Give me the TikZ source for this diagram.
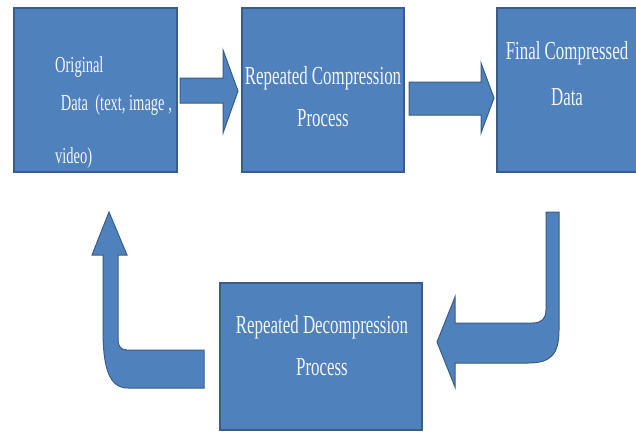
\documentclass[tikz,border=0pt]{standalone}
\usepackage{fontspec}
\newfontfamily\cond[FakeStretch=0.65]{Liberation Serif}
\newfontfamily\condb[FakeStretch=0.63]{Liberation Serif}
\definecolor{boxfill}{HTML}{4F81BD}
\definecolor{boxline}{HTML}{385D8A}
\definecolor{txt}{HTML}{F2F5FB}
\tikzset{
  blockbox/.style={draw=boxline, fill=boxfill, line width=1.6pt, inner sep=0pt},
  blockarrow/.style={draw=boxline, fill=boxfill, line width=1pt, line join=miter},
  boxtext/.style={text=txt, inner sep=0pt, font=\cond\fontsize{26}{42}\selectfont, align=center},
  lefttext/.style={text=txt, inner sep=0pt, font=\condb\fontsize{23}{23}\selectfont, anchor=base west}
}
\begin{document}
\begin{tikzpicture}[x=1pt,y=-1pt]
\useasboundingbox (0,0) rectangle (636,432);
\clip (0,0) rectangle (636,432);
\fill[white] (0,0) rectangle (636,432);
% boxes
\node[blockbox, minimum width=163pt, minimum height=164pt] (b1) at (95.5,90) {};
\node[blockbox, minimum width=162pt, minimum height=164pt] (b2) at (323,90) {};
\node[blockbox, minimum width=141pt, minimum height=164pt] (b3) at (567.5,90) {};
\node[blockbox, minimum width=202pt, minimum height=147pt] (b4) at (321,356.5) {};
% texts
\node[lefttext] (t1a) at (55,72) {Original};
\node[lefttext] (t1b) at (57,110) {\ Data\ \ (text, image ,};
\node[lefttext] (t1c) at (55,163) {video)};
\node[boxtext] (t2) at (323,96.5) {Repeated Compression\\Process};
\node[boxtext, font=\cond\fontsize{26}{46}\selectfont] (t3) at (567,74) {Final Compressed\\Data};
\node[boxtext] (t4) at (322,346) {Repeated Decompression\\Process};
% straight block arrows
\draw[blockarrow] (180,78) -- (223,78) -- (223,50) -- (238,91) -- (223,133) -- (223,103) -- (180,103) -- cycle;
\draw[blockarrow] (409,82) -- (481,82) -- (481,63) -- (494,98) -- (481,133) -- (481,115) -- (409,115) -- cycle;
% bent arrow from final data down to decompression
\draw[blockarrow] (546,212) -- (559,212) -- (559,330)
  .. controls (559,355) and (550,363) .. (528,363) -- (455,363) -- (455,387) -- (437,342)
  -- (455,297) -- (455,323) -- (533,323)
  .. controls (542,323) and (546,318) .. (546,310) -- cycle;
% bent arrow from decompression up to original data
\draw[blockarrow] (204,350) -- (204,388) -- (128,388)
  .. controls (110,388) and (103,370) .. (103,330) -- (103,255) -- (92,255) -- (109,212)
  -- (127,255) -- (118,255) -- (118,340)
  .. controls (118,346) and (121,350) .. (127,350) -- cycle;
\end{tikzpicture}
\end{document}
